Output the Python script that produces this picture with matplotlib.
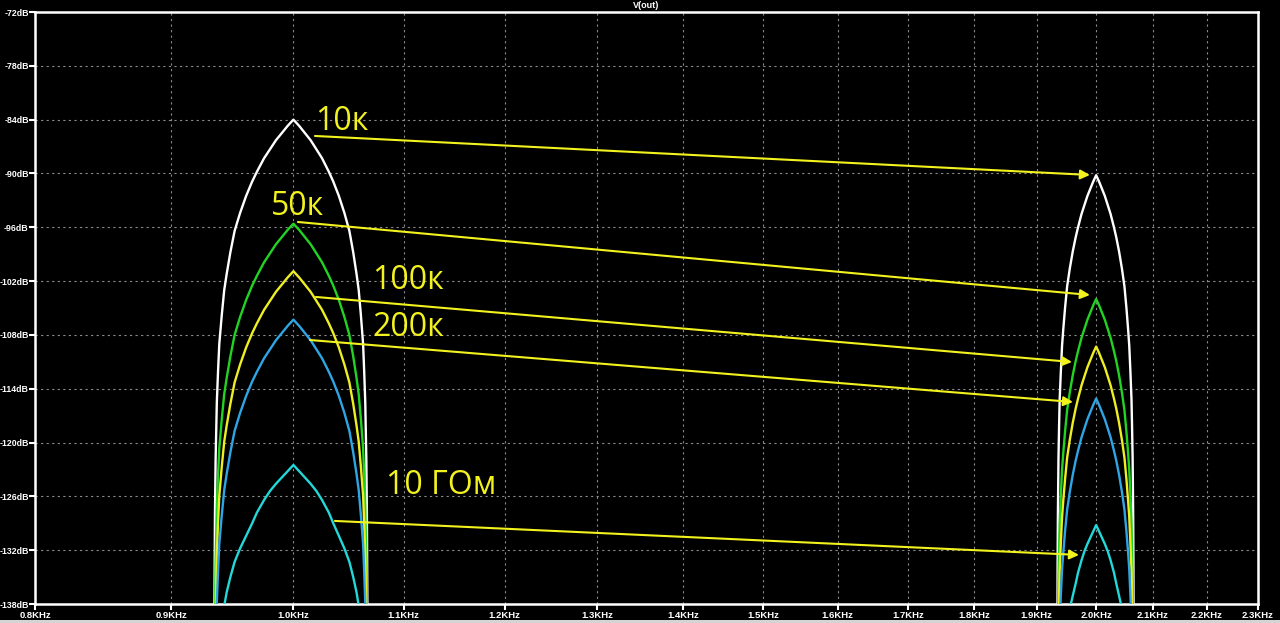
import matplotlib
matplotlib.use('Agg')
import matplotlib.pyplot as plt
from matplotlib.patches import Rectangle
import numpy as np

# FFT of V(out): lobes at 1 kHz and 2 kHz for several load resistances
series_names = ['10к', '50к', '100к', '200к', '10 ГОм']
series_colors = ['#ffffff', '#22d422', '#eeee22', '#2ea6e6', '#22d8d8']
peak_1k_db = [-84.0, -95.6, -100.9, -106.3, -122.5]
peak_2k_db = [-90.2, -104.0, -109.3, -115.1, -129.2]

# lobe shape: dB below the peak vs. offset from the tone (Hz)
lobe_offset_hz = [0, 5, 10, 15, 20, 25, 31, 35, 40, 45, 49.5, 53, 56, 58, 60, 62, 63, 64, 65, 65.5, 66, 67]
lobe_drop_db = [0, 0.7, 1.5, 2.3, 3.3, 4.3, 5.8, 6.9, 8.5, 10.4, 12.4, 14.8, 17.2, 19, 21.8, 25, 28, 31.5, 38, 44, 55, 70]
lobe_drop_10g_db = [0, 0.7, 1.4, 2.1, 2.9, 3.9, 5.3, 6.5, 7.9, 9.3, 10.8, 12.5, 14.2, 15.7, 17.5, 20, 22, 25, 30, 34, 40, 55]

x_ticks = [0.8, 0.9, 1.0, 1.1, 1.2, 1.3, 1.4, 1.5, 1.6, 1.7, 1.8, 1.9, 2.0, 2.1, 2.2, 2.3]
y_ticks = [-72, -78, -84, -90, -96, -102, -108, -114, -120, -126, -132, -138]

# labels (text pos) and arrows (from 1 kHz lobe to 2 kHz lobe), in kHz / dB
label_pos = [(1.0188, -85.15), (0.9808, -94.63), (1.0702, -102.88), (1.0702, -108.12), (1.0832, -125.73)]
arrow_start = [(1.0188, -85.82), (1.0039, -95.41), (1.0197, -103.77), (1.0144, -108.57), (1.0365, -128.74)]
arrow_end = [(1.9893, -90.17), (1.9893, -103.55), (1.9587, -111.02), (1.9604, -115.48), (1.9706, -132.53)]

fig = plt.figure(figsize=(12.8, 6.23), dpi=100, facecolor='black')
ax = fig.add_axes([35 / 1280, 19 / 623, 1223 / 1280, 592 / 623], facecolor='black')

off = np.array(lobe_offset_hz) / 1000.0
for i, name in enumerate(series_names):
    drop = np.array(lobe_drop_10g_db if i == 4 else lobe_drop_db)
    full_off = np.concatenate([-off[::-1], off[1:]])
    full_drop = np.concatenate([drop[::-1], drop[1:]])
    for f0, pk in ((1.0, peak_1k_db[i]), (2.0, peak_2k_db[i])):
        ax.plot(f0 + full_off, pk - full_drop, color=series_colors[i], lw=1.7, zorder=3 + i)

ax.set_xscale('log')
ax.set_xlim(0.8, 2.3)
ax.set_ylim(-138, -72)
ax.set_xticks(x_ticks)
ax.set_xticklabels(['%.1fKHz' % v for v in x_ticks])
ax.minorticks_off()
ax.set_yticks(y_ticks)
ax.set_yticklabels(['%ddB' % v for v in y_ticks])
ax.tick_params(axis='y', colors='white', length=4, width=1.5, labelsize=6.3, pad=0.5)
ax.tick_params(axis='x', colors='white', length=4, width=1.5, labelsize=6.8, pad=1)
for lab in ax.get_xticklabels() + ax.get_yticklabels():
    lab.set_fontweight('bold')
    lab.set_family('Liberation Sans')
ax.grid(True, color='#8a8a8a', linestyle=(0, (2, 3)), lw=0.8)
for s in ax.spines.values():
    s.set_color('white')
    s.set_linewidth(1.8)

yel = '#f2f21e'
for i, name in enumerate(series_names):
    ax.text(label_pos[i][0], label_pos[i][1], name, color=yel, fontsize=23,
            family='Open Sans', va='baseline', ha='left', zorder=20)
    ax.annotate('', xy=arrow_end[i], xytext=arrow_start[i],
                arrowprops=dict(arrowstyle='-|>', color=yel, lw=1.5,
                                mutation_scale=14, shrinkA=0, shrinkB=0), zorder=20)

fig.text(0.505, 1 - 6 / 623, 'V(out)', color='white', fontsize=6.5, fontweight='bold',
         family='Liberation Sans', ha='center', va='center')
fig.patches.append(Rectangle((0, 0), 1, 3 / 623, transform=fig.transFigure,
                             facecolor='#d4d4d4', edgecolor='none'))

fig.savefig('out.png', dpi=100, facecolor='black')
